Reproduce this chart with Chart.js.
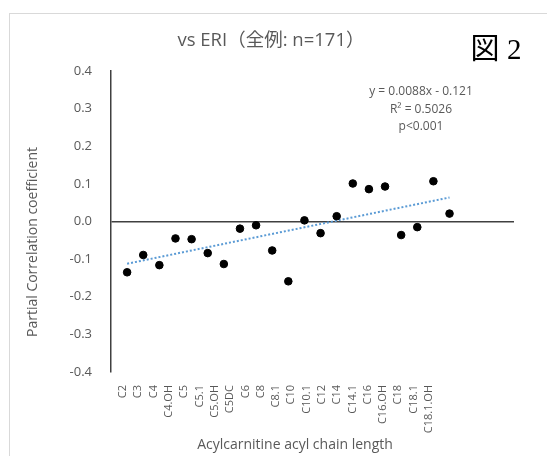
<!DOCTYPE html>
<html>
<head>
<meta charset="utf-8">
<title>vs ERI scatter</title>
<script src="https://cdn.jsdelivr.net/npm/chart.js"></script>
<style>
  body { margin: 0; background: #fff; }
  #wrap { position: relative; width: 547px; height: 456px; overflow: hidden; }
  #frame { position: absolute; left: 9px; top: 13px; width: 600px; height: 500px; border: 1px solid #d9d9d9; }
  canvas { position: absolute; left: 0; top: 0; }
</style>
</head>
<body>
<div id="wrap">
  <div id="frame"></div>
  <canvas id="scatterChart" width="547" height="456"></canvas>
</div>

<script>
    // categories and values
    const labels = ['C2', 'C3', 'C4', 'C4.OH', 'C5', 'C5.1', 'C5.OH', 'C5DC', 'C6', 'C8', 'C8.1',
                    'C10', 'C10.1', 'C12', 'C14', 'C14.1', 'C16', 'C16.OH', 'C18', 'C18.1', 'C18.1.OH'];
    const xValues = [1, 2, 3, 4, 5, 6, 7, 8, 9, 10, 11, 12, 13, 14, 15, 16, 17, 18, 19, 20, 21];
    const coefValues = [-0.135, -0.089, -0.116, -0.045, -0.047, -0.084, -0.113, -0.019, -0.010, -0.077, -0.159,
                        0.003, -0.031, 0.014, 0.101, 0.086, 0.093, -0.036, -0.015, 0.107, 0.021];
    // linear trend line end points (y = 0.0088x - 0.121)
    const trendX = [1, 21];
    const trendY = [-0.1122, 0.0638];
    const yTicks = [-0.4, -0.3, -0.2, -0.1, 0, 0.1, 0.2, 0.3, 0.4];

    const titleText = 'vs ERI（全例: n=171）';
    const figText = '図 2';
    const statLines = ['y = 0.0088x - 0.121', 'R² = 0.5026', 'p<0.001'];
    const xTitle = 'Acylcarnitine acyl chain length';
    const yTitle = 'Partial Correlation coefficient';

    const grey = '#595959';
    const axisColor = '#404040';

    const textPlugin = {
        id: 'texts',
        afterDraw(chart) {
            const c = chart.ctx;
            c.save();
            c.textAlign = 'center';
            c.textBaseline = 'middle';
            c.fillStyle = grey;
            c.font = '18.5px "Open Sans", "Noto Sans CJK JP"';
            c.fillText(titleText, 271, 41);

            c.font = '12px "Open Sans"';
            statLines.forEach((s, i) => c.fillText(s, 421, 92 + i * 17.5));

            c.font = '14px "Open Sans"';
            c.fillText(xTitle, 295, 445);
            c.translate(33, 242);
            c.rotate(-Math.PI / 2);
            c.fillText(yTitle, 0, 0);
            c.restore();

            c.save();
            c.fillStyle = '#000';
            c.textAlign = 'center';
            c.textBaseline = 'middle';
            c.font = '29px "Liberation Serif", "Noto Sans CJK JP"';
            c.fillText(figText, 496, 51);
            c.restore();
        }
    };

    const ctx = document.getElementById('scatterChart').getContext('2d');

    const chart = new Chart(ctx, {
        type: 'scatter',
        data: {
            datasets: [{
                label: 'partial r',
                data: xValues.map((x, i) => ({ x: x, y: coefValues[i] })),
                backgroundColor: '#000',
                borderColor: '#000',
                pointRadius: 3.8,
                order: 0
            }, {
                label: 'trend',
                data: trendX.map((x, i) => ({ x: x, y: trendY[i] })),
                showLine: true,
                borderColor: '#5B9BD5',
                borderWidth: 2,
                borderDash: [2, 2],
                pointRadius: 0,
                order: 1
            }]
        },
        options: {
            responsive: false,
            animation: false,
            devicePixelRatio: 1,
            layout: { padding: { left: 0, top: 71, right: 33, bottom: 0 } },
            plugins: {
                legend: { display: false },
                tooltip: { enabled: false }
            },
            scales: {
                x: {
                    type: 'linear',
                    min: 0,
                    max: 25,
                    display: false
                },
                x2: {
                    type: 'linear',
                    position: 'bottom',
                    min: 0.216,
                    max: 26.56,
                    afterBuildTicks: s => { s.ticks = labels.map((l, i) => ({ value: i + 1 })); },
                    afterFit: s => { s.height = 84; },
                    grid: { display: false, drawTicks: false },
                    border: { display: false },
                    ticks: {
                        autoSkip: false,
                        minRotation: 90,
                        maxRotation: 90,
                        padding: 13,
                        color: grey,
                        font: { family: 'Open Sans', size: 11 },
                        callback: v => labels[Math.round(v) - 1]
                    }
                },
                y: {
                    min: -0.4,
                    max: 0.4,
                    afterBuildTicks: s => { s.ticks = yTicks.map(v => ({ value: v })); },
                    afterFit: s => { s.width = 111; },
                    grid: {
                        drawTicks: false,
                        lineWidth: 1.5,
                        color: c => (c.tick && c.tick.value === 0) ? axisColor : 'rgba(0,0,0,0)'
                    },
                    border: { display: true, color: axisColor, width: 1.5 },
                    ticks: {
                        padding: 19,
                        color: grey,
                        font: { family: 'Open Sans', size: 13 },
                        callback: v => v.toFixed(1)
                    }
                }
            }
        },
        plugins: [textPlugin]
    });
</script>
</body>
</html>
